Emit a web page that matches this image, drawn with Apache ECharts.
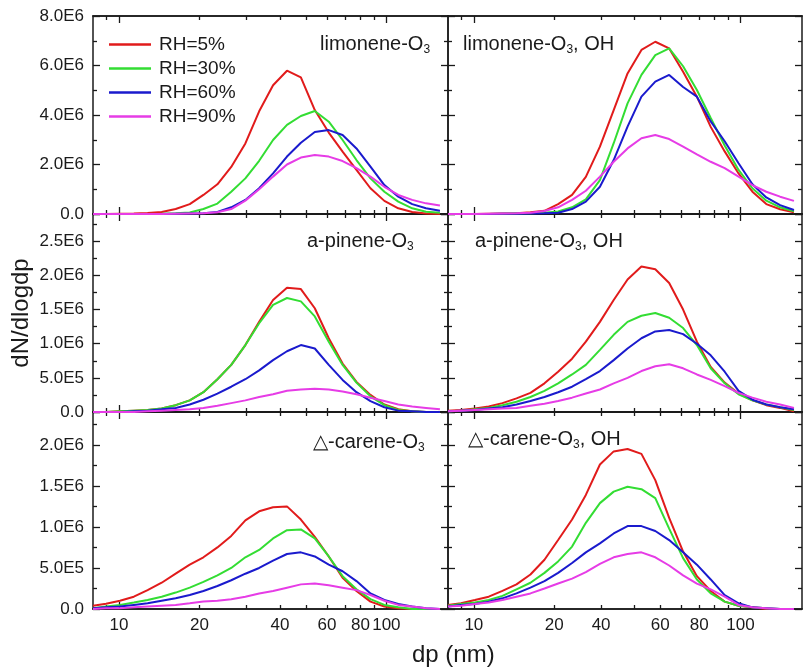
<!DOCTYPE html>
<html>
<head>
<meta charset="utf-8">
<script src="https://cdn.jsdelivr.net/npm/echarts@6/dist/echarts.min.js"></script>
<style>
html,body{margin:0;padding:0;background:#fff}
#main{width:806px;height:672px}
</style>
</head>
<body>
<div id="main"></div>
<script>
// particle diameter bins (nm)
var dp = [8.0, 8.95, 10.09, 11.37, 12.8, 14.45, 16.3, 18.4, 20.7, 23.35, 26.3, 29.7, 33.45,
          37.7, 42.5, 47.9, 54.0, 60.9, 68.6, 77.3, 87.2, 98.3, 110.8, 124.9, 140.7, 158.6];

var rhNames = ['RH=5%', 'RH=30%', 'RH=60%', 'RH=90%'];
var rhColors = ['#e11b1b', '#33dd33', '#1a1acd', '#e63ce6'];

// dN/dlogdp, in units of 1E6
var limO3_5  = [0, 0, 0.01, 0.02, 0.04, 0.08, 0.2, 0.4, 0.77, 1.2, 1.9, 2.85, 4.15, 5.2, 5.79, 5.52, 4.2, 3.29, 2.52, 1.78, 1.04, 0.53, 0.23, 0.08, 0.02, 0];
var limO3_30 = [0, 0, 0, 0, 0, 0.01, 0.03, 0.06, 0.2, 0.42, 0.9, 1.44, 2.15, 2.99, 3.6, 3.96, 4.16, 3.73, 2.99, 2.18, 1.44, 0.9, 0.5, 0.23, 0.09, 0.05];
var limO3_60 = [0, 0, 0, 0, 0, 0, 0.01, 0.02, 0.03, 0.08, 0.27, 0.57, 1.04, 1.64, 2.32, 2.88, 3.31, 3.39, 3.19, 2.65, 1.91, 1.17, 0.7, 0.4, 0.23, 0.13];
var limO3_90 = [0, 0, 0, 0, 0, 0, 0.01, 0.02, 0.03, 0.07, 0.2, 0.54, 1.0, 1.51, 2.0, 2.28, 2.38, 2.32, 2.14, 1.85, 1.51, 1.1, 0.77, 0.57, 0.43, 0.34];

var limOH_5  = [0, 0, 0, 0.01, 0.02, 0.03, 0.07, 0.13, 0.4, 0.77, 1.5, 2.72, 4.2, 5.68, 6.63, 6.96, 6.69, 5.75, 4.74, 3.52, 2.53, 1.64, 0.9, 0.4, 0.19, 0.07];
var limOH_30 = [0, 0, 0, 0, 0.01, 0.02, 0.03, 0.05, 0.1, 0.27, 0.59, 1.37, 2.86, 4.47, 5.62, 6.42, 6.69, 5.97, 5.01, 3.88, 2.77, 1.78, 1.04, 0.54, 0.27, 0.11];
var limOH_60 = [0, 0, 0, 0, 0.01, 0.01, 0.02, 0.03, 0.05, 0.2, 0.5, 1.1, 2.18, 3.53, 4.74, 5.35, 5.62, 5.13, 4.74, 3.74, 2.94, 2.05, 1.2, 0.67, 0.36, 0.16];
var limOH_90 = [0, 0, 0, 0.01, 0.02, 0.03, 0.05, 0.12, 0.27, 0.57, 0.94, 1.51, 2.11, 2.65, 3.06, 3.19, 3.03, 2.72, 2.41, 2.11, 1.85, 1.51, 1.17, 0.9, 0.7, 0.53];

var pinO3_5  = [0, 0, 0.01, 0.02, 0.03, 0.05, 0.1, 0.17, 0.29, 0.48, 0.69, 0.98, 1.32, 1.64, 1.82, 1.8, 1.52, 1.08, 0.71, 0.44, 0.25, 0.11, 0.04, 0.01, 0, 0];
var pinO3_30 = [0, 0, 0.01, 0.02, 0.03, 0.05, 0.1, 0.17, 0.29, 0.48, 0.69, 0.98, 1.3, 1.57, 1.67, 1.62, 1.4, 1.03, 0.69, 0.43, 0.23, 0.1, 0.03, 0.01, 0, 0];
var pinO3_60 = [0, 0, 0, 0.01, 0.02, 0.04, 0.06, 0.11, 0.18, 0.27, 0.37, 0.48, 0.61, 0.76, 0.89, 0.98, 0.93, 0.69, 0.47, 0.29, 0.16, 0.07, 0.02, 0.01, 0, 0];
var pinO3_90 = [0, 0, 0, 0, 0.01, 0.02, 0.03, 0.04, 0.06, 0.09, 0.13, 0.17, 0.22, 0.26, 0.31, 0.33, 0.34, 0.33, 0.3, 0.26, 0.21, 0.16, 0.11, 0.08, 0.06, 0.04];

var pinOH_5  = [0.02, 0.03, 0.05, 0.08, 0.13, 0.2, 0.28, 0.42, 0.59, 0.78, 1.03, 1.32, 1.64, 1.94, 2.13, 2.09, 1.89, 1.5, 1.03, 0.66, 0.43, 0.27, 0.17, 0.1, 0.06, 0.01];
var pinOH_30 = [0.01, 0.02, 0.04, 0.06, 0.1, 0.15, 0.22, 0.31, 0.42, 0.55, 0.69, 0.91, 1.13, 1.32, 1.41, 1.45, 1.38, 1.23, 0.98, 0.64, 0.42, 0.26, 0.17, 0.11, 0.07, 0.03];
var pinOH_60 = [0.01, 0.02, 0.03, 0.05, 0.07, 0.11, 0.16, 0.22, 0.29, 0.37, 0.48, 0.6, 0.76, 0.93, 1.08, 1.18, 1.2, 1.14, 1.0, 0.83, 0.59, 0.31, 0.18, 0.11, 0.07, 0.04];
var pinOH_90 = [0.01, 0.02, 0.03, 0.04, 0.05, 0.06, 0.09, 0.12, 0.16, 0.21, 0.27, 0.33, 0.42, 0.5, 0.6, 0.67, 0.7, 0.64, 0.55, 0.47, 0.38, 0.28, 0.21, 0.15, 0.11, 0.06];

var carO3_5  = [0.04, 0.065, 0.1, 0.15, 0.23, 0.32, 0.43, 0.54, 0.63, 0.75, 0.89, 1.08, 1.19, 1.24, 1.25, 1.09, 0.88, 0.64, 0.38, 0.22, 0.09, 0.03, 0.01, 0, 0, 0];
var carO3_30 = [0.01, 0.03, 0.05, 0.08, 0.11, 0.15, 0.2, 0.26, 0.33, 0.41, 0.5, 0.63, 0.72, 0.86, 0.96, 0.97, 0.86, 0.64, 0.4, 0.24, 0.12, 0.05, 0.02, 0, 0, 0];
var carO3_60 = [0.01, 0.02, 0.03, 0.05, 0.07, 0.1, 0.13, 0.17, 0.22, 0.28, 0.35, 0.43, 0.5, 0.59, 0.67, 0.69, 0.64, 0.54, 0.46, 0.34, 0.19, 0.11, 0.06, 0.03, 0.01, 0];
var carO3_90 = [0, 0.01, 0.01, 0.02, 0.03, 0.04, 0.05, 0.07, 0.09, 0.1, 0.12, 0.15, 0.19, 0.22, 0.26, 0.3, 0.31, 0.29, 0.26, 0.23, 0.17, 0.1, 0.05, 0.03, 0.01, 0];

var carOH_5  = [0.05, 0.07, 0.11, 0.15, 0.22, 0.3, 0.42, 0.6, 0.84, 1.09, 1.39, 1.76, 1.92, 1.95, 1.89, 1.57, 1.11, 0.7, 0.4, 0.22, 0.09, 0.04, 0.02, 0, 0, 0];
var carOH_30 = [0.04, 0.06, 0.08, 0.11, 0.16, 0.24, 0.32, 0.44, 0.58, 0.76, 1.05, 1.29, 1.43, 1.49, 1.46, 1.35, 0.98, 0.62, 0.36, 0.19, 0.09, 0.04, 0.02, 0.01, 0, 0];
var carOH_60 = [0.03, 0.05, 0.06, 0.09, 0.13, 0.19, 0.26, 0.34, 0.44, 0.56, 0.69, 0.8, 0.92, 1.01, 1.01, 0.95, 0.84, 0.69, 0.54, 0.36, 0.17, 0.07, 0.02, 0.01, 0, 0];
var carOH_90 = [0.03, 0.04, 0.06, 0.08, 0.11, 0.15, 0.19, 0.25, 0.31, 0.37, 0.45, 0.55, 0.63, 0.67, 0.69, 0.63, 0.53, 0.41, 0.31, 0.24, 0.15, 0.05, 0.02, 0.01, 0, 0];

// tick positions on the dp axis
var majorTicks = [10, 100];
var minorTicks = [9, 20, 30, 40, 50, 60, 70, 80, 90];
var leftLabelValues = [10, 20, 40, 60, 80, 100];
var rightLabelValues = [10, 20, 30, 50, 70, 100];
var rightLabelText = ['10', '20', '40', '60', '80', '100'];

var panels = [
  {row: 0, col: 0, title: 'limonene-O{s|3}', ymax: 8, yint: 2, lines: [limO3_5, limO3_30, limO3_60, limO3_90]},
  {row: 0, col: 1, title: 'limonene-O{s|3}, OH', ymax: 8, yint: 2, lines: [limOH_5, limOH_30, limOH_60, limOH_90]},
  {row: 1, col: 0, title: 'a-pinene-O{s|3}', ymax: 2.9, yint: 0.5, lines: [pinO3_5, pinO3_30, pinO3_60, pinO3_90]},
  {row: 1, col: 1, title: 'a-pinene-O{s|3}, OH', ymax: 2.9, yint: 0.5, lines: [pinOH_5, pinOH_30, pinOH_60, pinOH_90]},
  {row: 2, col: 0, title: '\u25B3-carene-O{s|3}', ymax: 2.4, yint: 0.5, lines: [carO3_5, carO3_30, carO3_60, carO3_90]},
  {row: 2, col: 1, title: '\u25B3-carene-O{s|3}, OH', ymax: 2.4, yint: 0.5, lines: [carOH_5, carOH_30, carOH_60, carOH_90]}
];

var colLeft = [93, 448], colWidth = [355, 354];
var rowTop = [16, 214, 412], rowHeight = [198, 198, 197];
var titlePos = [[320, 32], [463, 32], [307, 229], [475, 229], [313, 430], [468, 427]];

var font = "'Liberation Sans', Arial, sans-serif";
var ink = '#1a1a1a';

function fmtY(v) {
  if (v === 0) return '0.0';
  return (v * 1e6).toExponential(1).toUpperCase().replace('+', '');
}

function xAxisDef(g, pos, ticks, len, col, labels) {
  var ax = {
    gridIndex: g, type: 'log', logBase: 10, min: 8, max: 170, position: pos,
    axisLine: {show: true, onZero: false, lineStyle: {color: ink, width: 1.5}},
    axisTick: {show: true, inside: true, length: len, customValues: ticks, lineStyle: {color: ink, width: 1.3}},
    axisLabel: {show: false},
    splitLine: {show: false}
  };
  if (labels) {
    ax.axisLabel = {
      show: true, margin: 8, fontSize: 17, color: ink, fontFamily: font,
      customValues: col === 0 ? leftLabelValues : rightLabelValues,
      formatter: function (v) {
        var r = Math.round(v);
        if (col === 0) return String(r);
        var i = rightLabelValues.indexOf(r);
        return i >= 0 ? rightLabelText[i] : '';
      }
    };
  }
  return ax;
}

function yAxisDef(g, pos, p, labels) {
  return {
    gridIndex: g, type: 'value', position: pos, min: 0, max: p.ymax, interval: p.yint,
    axisLine: {show: true, onZero: false, lineStyle: {color: ink, width: 1.5}},
    axisTick: {show: true, inside: true, length: 7, lineStyle: {color: ink, width: 1.3}},
    minorTick: {show: true, splitNumber: 2, length: 4, lineStyle: {color: ink, width: 1.3}},
    axisLabel: labels ? {show: true, showMaxLabel: p.row === 0, margin: 9, fontSize: 17,
                         color: ink, fontFamily: font, formatter: fmtY} : {show: false},
    splitLine: {show: false}
  };
}

var grids = [], xAxes = [], yAxes = [], series = [], titles = [];

panels.forEach(function (p, k) {
  var rect = {left: colLeft[p.col], top: rowTop[p.row], width: colWidth[p.col], height: rowHeight[p.row]};

  grids.push(Object.assign({}, rect));
  var g = grids.length - 1;
  var xb = xAxes.length;
  xAxes.push(xAxisDef(g, 'bottom', majorTicks, 7, p.col, p.row === 2));
  xAxes.push(xAxisDef(g, 'top', majorTicks, 7, p.col, false));
  var yl = yAxes.length;
  var yLeft = yAxisDef(g, 'left', p, p.col === 0);
  if (p.row === 1 && p.col === 0) {
    yLeft.name = 'dN/dlogdp';
    yLeft.nameLocation = 'middle';
    yLeft.nameRotate = 90;
    yLeft.nameGap = 60;
    yLeft.nameTextStyle = {fontSize: 24, color: ink, fontFamily: font};
  }
  yAxes.push(yLeft);
  yAxes.push(yAxisDef(g, 'right', p, false));

  // overlay grid carrying the minor ticks of the dp axis
  grids.push(Object.assign({}, rect));
  var g2 = grids.length - 1;
  xAxes.push(xAxisDef(g2, 'bottom', minorTicks, 4, p.col, false));
  xAxes.push(xAxisDef(g2, 'top', minorTicks, 4, p.col, false));
  yAxes.push({gridIndex: g2, type: 'value', show: false, min: 0, max: p.ymax});

  p.lines.forEach(function (vals, j) {
    series.push({
      type: 'line', name: rhNames[j], xAxisIndex: xb, yAxisIndex: yl,
      symbol: 'none', smooth: false, clip: true, silent: true,
      lineStyle: {width: 2, color: rhColors[j]},
      itemStyle: {color: rhColors[j]},
      data: dp.map(function (d, i) { return [d, vals[i]]; })
    });
  });

  titles.push({
    text: p.title, left: titlePos[k][0], top: titlePos[k][1], padding: 0,
    textStyle: {
      fontSize: 20, fontWeight: 'normal', color: ink, fontFamily: font, lineHeight: 24,
      rich: {s: {fontSize: 12, lineHeight: 12, verticalAlign: 'bottom', color: ink, fontFamily: font}}
    }
  });
});

var chart = echarts.init(document.getElementById('main'));
chart.setOption({
  backgroundColor: '#fff',
  animation: false,
  title: titles,
  legend: {
    orient: 'vertical', left: 104, top: 30, itemWidth: 42, itemHeight: 2.5, itemGap: 5,
    icon: 'rect',
    data: rhNames,
    textStyle: {fontSize: 19, color: ink, fontFamily: font, padding: [0, 0, 0, 3]}
  },
  grid: grids,
  xAxis: xAxes,
  yAxis: yAxes,
  series: series,
  graphic: [{
    type: 'text', left: 412, top: 643,
    style: {text: 'dp (nm)', fontSize: 24, fill: ink, fontFamily: font}
  }]
});
</script>
</body>
</html>
